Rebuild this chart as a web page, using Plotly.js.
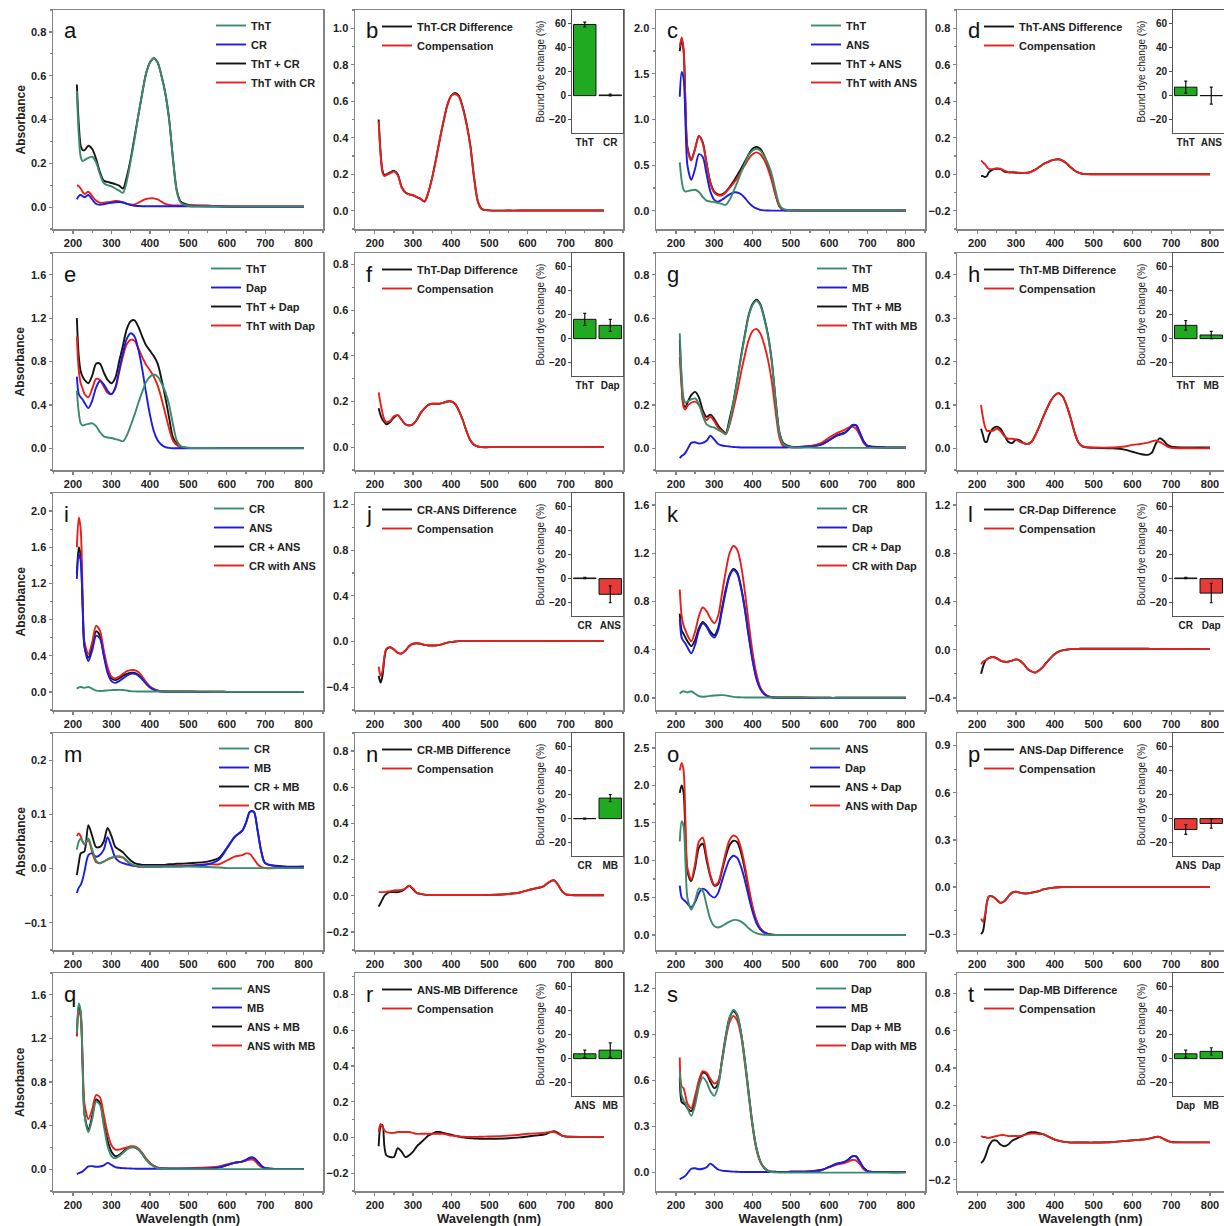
<!DOCTYPE html>
<html><head><meta charset="utf-8">
<script src="https://cdn.plot.ly/plotly-3.0.1.min.js"></script>
<style>html,body{margin:0;padding:0;background:#fff}#chart{width:1224px;height:1226px}</style>
</head><body><div id="chart"></div>
<script>
const WL = [210,215,220,225,230, 240,250,260,270,280,290,300, 310,320,330,340,350,360,370,380,390,400, 410,420,430,440,450,460,470,480, 500,550,580,600,620,640,650,660,670,680,690,700,750,800];

const THT = [0.53,0.33,0.23,0.21,0.215, 0.225,0.23,0.205,0.15,0.11,0.10,0.095, 0.085,0.075,0.065,0.12,0.21,0.31,0.42,0.52,0.61,0.66, 0.68,0.66,0.60,0.52,0.40,0.22,0.07,0.02, 0.005,0.003,0.002,0.002,0.002,0.002,0.002,0.002,0.002,0.002,0.002,0.002,0.002,0.002];
const CR = [0.035,0.05,0.055,0.05,0.045, 0.055,0.035,0.015,0.01,0.013,0.017,0.02, 0.022,0.023,0.021,0.015,0.009,0.006,0.005,0.004,0.004,0.004, 0.004,0.004,0.004,0.004,0.004,0.004,0.004,0.004, 0.004,0.003,0.002,0.001,0.001,0.001,0.001,0.001,0.001,0.001,0.001,0.001,0.001,0.001];
const ANS = [1.25,1.52,1.45,0.95,0.50, 0.34,0.46,0.62,0.59,0.40,0.21,0.12, 0.10,0.12,0.15,0.18,0.20,0.20,0.18,0.14,0.09,0.05, 0.025,0.01,0.004,0.002,0.001,0.001,0.001,0.001, 0.001,0.001,0.001,0.001,0.001,0.001,0.001,0.001,0.001,0.001,0.001,0.001,0.001,0.001];
const DAP = [0.66,0.50,0.47,0.45,0.42, 0.37,0.44,0.56,0.62,0.59,0.53,0.50, 0.56,0.72,0.88,1.01,1.06,1.03,0.91,0.73,0.51,0.31, 0.16,0.075,0.032,0.011,0.004,0.001,0,0, 0,0,0,0,0,0,0,0,0,0,0,0,0,0];
const MB = [-0.045,-0.035,-0.03,-0.02,-0.005, 0.025,0.028,0.022,0.025,0.035,0.058,0.04, 0.02,0.013,0.01,0.008,0.006,0.005,0.004,0.004,0.004,0.004, 0.004,0.004,0.004,0.004,0.004,0.004,0.004,0.004, 0.005,0.008,0.017,0.037,0.058,0.07,0.085,0.105,0.105,0.07,0.03,0.01,0.003,0.003];

const A_SUM = [0.56,0.38,0.28,0.26,0.26, 0.28,0.265,0.22,0.16,0.12,0.115,0.11, 0.105,0.098,0.085,0.14,0.22,0.32,0.42,0.52,0.61,0.66, 0.68,0.66,0.60,0.52,0.40,0.22,0.075,0.025, 0.01,0.006,0.004,0.003,0.003,0.003,0.003,0.003,0.003,0.003,0.003,0.003,0.003,0.003];
const A_WITH = [0.10,0.095,0.085,0.07,0.06, 0.07,0.05,0.03,0.02,0.02,0.022,0.025, 0.028,0.027,0.022,0.015,0.012,0.012,0.02,0.03,0.037,0.04, 0.04,0.035,0.025,0.015,0.01,0.008,0.008,0.008, 0.008,0.006,0.005,0.004,0.003,0.003,0.003,0.003,0.003,0.003,0.003,0.003,0.003,0.003];
const B_DIFF = [0.50,0.32,0.22,0.195,0.20, 0.21,0.22,0.20,0.13,0.10,0.09,0.085, 0.075,0.065,0.05,0.10,0.18,0.28,0.39,0.49,0.58,0.63, 0.645,0.63,0.57,0.48,0.36,0.18,0.05,0.01, 0.002,0.001,0.001,0.001,0.001,0.001,0.001,0.001,0.001,0.001,0.001,0.001,0.001,0.001];
const B_COMP = [0.49,0.31,0.21,0.19,0.195, 0.205,0.215,0.195,0.13,0.10,0.09,0.085, 0.075,0.065,0.05,0.10,0.18,0.28,0.39,0.49,0.58,0.63, 0.64,0.625,0.565,0.475,0.355,0.18,0.05,0.01, 0.002,0.001,0.001,0.001,0.001,0.001,0.001,0.001,0.001,0.001,0.001,0.001,0.001,0.001];
const C_SUM = [1.75,1.88,1.75,1.15,0.70, 0.56,0.68,0.82,0.75,0.52,0.31,0.21, 0.18,0.18,0.21,0.26,0.32,0.39,0.46,0.54,0.62,0.68, 0.70,0.68,0.61,0.50,0.36,0.18,0.05,0.01, 0.005,0.003,0.002,0.002,0.002,0.002,0.002,0.002,0.002,0.002,0.002,0.002,0.002,0.002];
const C_WITH = [1.80,1.90,1.78,1.15,0.68, 0.55,0.68,0.82,0.74,0.51,0.30,0.20, 0.17,0.17,0.20,0.25,0.30,0.36,0.43,0.50,0.57,0.62, 0.64,0.62,0.56,0.46,0.33,0.17,0.05,0.01, 0.005,0.003,0.002,0.002,0.002,0.002,0.002,0.002,0.002,0.002,0.002,0.002,0.002,0.002];
const D_DIFF = [-0.01,-0.01,-0.015,-0.01,0.01, 0.025,0.03,0.028,0.015,0.01,0.01,0.008, 0.007,0.006,0.008,0.015,0.025,0.04,0.055,0.065,0.075,0.08, 0.082,0.075,0.06,0.04,0.022,0.01,0.003,0.001, 0,0,0,0,0,0,0,0,0,0,0,0,0,0];
const D_COMP = [0.075,0.065,0.055,0.04,0.03, 0.028,0.032,0.03,0.02,0.012,0.012,0.01, 0.008,0.007,0.008,0.015,0.025,0.04,0.055,0.065,0.075,0.08, 0.082,0.075,0.06,0.04,0.022,0.01,0.003,0.001, 0,0,0,0,0,0,0,0,0,0,0,0,0,0];
const E_SUM = [1.20,0.85,0.71,0.66,0.63, 0.60,0.67,0.78,0.78,0.70,0.63,0.60, 0.65,0.80,0.95,1.10,1.17,1.18,1.12,1.03,0.95,0.90, 0.85,0.78,0.64,0.47,0.28,0.10,0.04,0.01, 0.003,0.002,0.002,0.002,0.002,0.002,0.002,0.002,0.002,0.002,0.002,0.002,0.002,0.002];
const E_WITH = [1.03,0.72,0.60,0.55,0.50, 0.47,0.55,0.64,0.63,0.57,0.51,0.50, 0.55,0.70,0.85,0.96,1.00,0.99,0.92,0.84,0.77,0.72, 0.66,0.58,0.46,0.32,0.18,0.07,0.03,0.01, 0.002,0.002,0.002,0.002,0.002,0.002,0.002,0.002,0.002,0.002,0.002,0.002,0.002,0.002];
const F_DIFF = [0.17,0.14,0.12,0.11,0.10, 0.11,0.13,0.14,0.12,0.10,0.095,0.10, 0.12,0.15,0.17,0.185,0.19,0.19,0.19,0.195,0.20,0.20, 0.19,0.16,0.12,0.07,0.03,0.01,0.003,0, 0,0,0,0,0,0,0,0,0,0,0,0,0,0];
const F_COMP = [0.24,0.19,0.15,0.12,0.11, 0.115,0.135,0.14,0.12,0.10,0.095,0.10, 0.12,0.15,0.17,0.185,0.19,0.19,0.19,0.195,0.20,0.20, 0.19,0.16,0.12,0.07,0.03,0.01,0.003,0, 0,0,0,0,0,0,0,0,0,0,0,0,0,0];
const G_SUM = [0.50,0.30,0.20,0.19,0.21, 0.245,0.26,0.235,0.175,0.145,0.155,0.135, 0.105,0.085,0.07,0.135,0.215,0.315,0.425,0.525,0.615,0.665, 0.685,0.665,0.605,0.525,0.405,0.225,0.075,0.025, 0.008,0.01,0.018,0.038,0.06,0.072,0.087,0.107,0.107,0.072,0.032,0.012,0.004,0.004];
const G_WITH = [0.42,0.28,0.19,0.18,0.195, 0.21,0.215,0.20,0.16,0.13,0.145,0.125, 0.095,0.08,0.065,0.11,0.18,0.26,0.35,0.43,0.50,0.54, 0.55,0.53,0.48,0.41,0.31,0.17,0.05,0.01, 0.005,0.01,0.025,0.05,0.07,0.085,0.095,0.10,0.09,0.06,0.025,0.008,0.003,0.003];
const H_DIFF = [0.045,0.03,0.015,0.015,0.03, 0.045,0.05,0.045,0.03,0.015,0.012,0.02, 0.018,0.012,0.01,0.015,0.03,0.05,0.072,0.092,0.11,0.122, 0.127,0.12,0.10,0.072,0.04,0.015,0.005,0.002, 0.001,0,-0.003,-0.008,-0.013,-0.015,-0.01,0.01,0.023,0.018,0.008,0.004,0.002,0.002];
const H_COMP = [0.10,0.07,0.05,0.04,0.04, 0.04,0.045,0.04,0.028,0.022,0.022,0.02, 0.015,0.012,0.01,0.015,0.03,0.05,0.072,0.092,0.11,0.122, 0.127,0.12,0.10,0.072,0.04,0.015,0.005,0.003, 0.002,0.002,0.004,0.008,0.01,0.013,0.016,0.018,0.015,0.01,0.004,0.001,0,0];
const I_SUM = [1.30,1.60,1.50,0.95,0.50, 0.38,0.50,0.67,0.62,0.42,0.24,0.15, 0.13,0.15,0.18,0.20,0.21,0.21,0.19,0.15,0.10,0.055, 0.03,0.013,0.006,0.004,0.004,0.004,0.004,0.004, 0.004,0.003,0.002,0.001,0.001,0.001,0.001,0.001,0.001,0.001,0.001,0.001,0.001,0.001];
const I_WITH = [1.60,1.93,1.80,1.10,0.55, 0.42,0.55,0.73,0.68,0.46,0.27,0.17, 0.15,0.17,0.20,0.23,0.24,0.24,0.22,0.17,0.11,0.06, 0.03,0.013,0.006,0.004,0.004,0.004,0.004,0.004, 0.004,0.003,0.002,0.001,0.001,0.001,0.001,0.001,0.001,0.001,0.001,0.001,0.001,0.001];
const J_DIFF = [-0.30,-0.36,-0.30,-0.15,-0.07, -0.05,-0.07,-0.10,-0.105,-0.08,-0.04,-0.02, -0.015,-0.02,-0.03,-0.035,-0.035,-0.035,-0.03,-0.02,-0.01,-0.005, 0,0.003,0.003,0.003,0.003,0.003,0.003,0.004, 0.005,0.005,0.005,0.005,0.005,0.005,0.005,0.005,0.005,0.005,0.004,0.004,0.003,0.003];
const J_COMP = [-0.22,-0.30,-0.26,-0.13,-0.065, -0.05,-0.07,-0.10,-0.105,-0.08,-0.04,-0.02, -0.015,-0.02,-0.03,-0.035,-0.035,-0.035,-0.03,-0.02,-0.01,-0.005, 0,0.003,0.003,0.003,0.003,0.003,0.003,0.004, 0.005,0.005,0.005,0.005,0.005,0.005,0.005,0.005,0.005,0.005,0.004,0.004,0.003,0.003];
const K_SUM = [0.70,0.56,0.53,0.50,0.47, 0.43,0.48,0.58,0.63,0.60,0.55,0.52, 0.58,0.74,0.90,1.02,1.07,1.04,0.92,0.74,0.52,0.32, 0.17,0.08,0.036,0.015,0.007,0.005,0.004,0.004, 0.004,0.003,0.002,0.001,0.001,0.001,0.001,0.001,0.001,0.001,0.001,0.001,0.001,0.001];
const K_WITH = [0.90,0.68,0.60,0.56,0.52, 0.47,0.55,0.68,0.75,0.72,0.66,0.62, 0.68,0.86,1.05,1.20,1.26,1.23,1.10,0.88,0.62,0.38, 0.20,0.09,0.04,0.015,0.006,0.004,0.004,0.004, 0.004,0.003,0.002,0.001,0.001,0.001,0.001,0.001,0.001,0.001,0.001,0.001,0.001,0.001];
const L_DIFF = [-0.20,-0.14,-0.10,-0.08,-0.07, -0.06,-0.07,-0.09,-0.10,-0.10,-0.09,-0.08, -0.09,-0.12,-0.16,-0.18,-0.19,-0.17,-0.14,-0.10,-0.065,-0.035, -0.015,-0.005,0,0.005,0.006,0.007,0.008,0.008, 0.008,0.008,0.008,0.008,0.008,0.008,0.007,0.007,0.007,0.006,0.006,0.006,0.005,0.005];
const L_COMP = [-0.12,-0.10,-0.09,-0.08,-0.07, -0.06,-0.07,-0.09,-0.10,-0.10,-0.09,-0.08, -0.09,-0.12,-0.16,-0.18,-0.19,-0.17,-0.14,-0.10,-0.065,-0.035, -0.015,-0.005,0,0.005,0.006,0.007,0.008,0.008, 0.008,0.008,0.008,0.008,0.008,0.008,0.007,0.007,0.007,0.006,0.006,0.006,0.005,0.005];
const M_SUM = [-0.012,0.01,0.028,0.03,0.032, 0.08,0.06,0.04,0.04,0.05,0.075,0.06, 0.04,0.035,0.03,0.022,0.015,0.01,0.008,0.007,0.007,0.007, 0.007,0.007,0.007,0.007,0.008,0.008,0.009,0.009, 0.01,0.013,0.02,0.038,0.058,0.07,0.085,0.105,0.105,0.07,0.03,0.01,0.004,0.004];
const M_WITH = [0.06,0.065,0.06,0.05,0.045, 0.052,0.03,0.012,0.01,0.013,0.017,0.02, 0.022,0.022,0.02,0.014,0.008,0.005,0.004,0.004,0.004,0.004, 0.004,0.004,0.004,0.005,0.005,0.005,0.006,0.006, 0.006,0.008,0.008,0.015,0.022,0.025,0.028,0.027,0.018,0.008,0.003,0.001,0.001,0.001];
const N_DIFF = [-0.06,-0.04,-0.02,0,0.01, 0.02,0.02,0.02,0.025,0.04,0.055,0.035, 0.015,0.01,0.006,0.004,0.004,0.004,0.004,0.004,0.004,0.004, 0.004,0.004,0.004,0.004,0.004,0.004,0.004,0.004, 0.005,0.01,0.018,0.03,0.04,0.05,0.065,0.08,0.085,0.06,0.025,0.008,0.003,0.003];
const N_COMP = [0.02,0.02,0.02,0.02,0.022, 0.025,0.03,0.03,0.032,0.04,0.055,0.04, 0.015,0.01,0.006,0.004,0.004,0.004,0.004,0.004,0.004,0.004, 0.004,0.004,0.004,0.004,0.004,0.004,0.004,0.004, 0.005,0.01,0.018,0.03,0.04,0.05,0.065,0.08,0.085,0.06,0.025,0.008,0.003,0.003];
const O_SUM = [1.90,2.00,1.90,1.30,0.85, 0.72,0.90,1.17,1.22,1.00,0.78,0.66, 0.68,0.85,1.05,1.20,1.26,1.24,1.10,0.87,0.60,0.36, 0.19,0.09,0.04,0.015,0.005,0.002,0.001,0, 0,0,0,0,0,0,0,0,0,0,0,0,0,0];
const O_WITH = [2.20,2.30,2.20,1.50,0.90, 0.74,0.95,1.25,1.30,1.05,0.80,0.67, 0.70,0.88,1.10,1.27,1.33,1.30,1.16,0.92,0.64,0.38, 0.20,0.09,0.04,0.015,0.005,0.002,0.001,0, 0,0,0,0,0,0,0,0,0,0,0,0,0,0];
const P_DIFF = [-0.30,-0.28,-0.20,-0.10,-0.06, -0.06,-0.08,-0.10,-0.09,-0.06,-0.035,-0.03, -0.035,-0.04,-0.04,-0.035,-0.03,-0.025,-0.015,-0.01,-0.005,-0.003, -0.001,0,0,0,0,0,0,0, 0,0,0,0,0,0,0,0,0,0,0,0,0,0];
const P_COMP = [-0.20,-0.22,-0.18,-0.10,-0.06, -0.06,-0.08,-0.10,-0.09,-0.06,-0.035,-0.03, -0.035,-0.04,-0.04,-0.035,-0.03,-0.025,-0.015,-0.01,-0.005,-0.003, -0.001,0,0,0,0,0,0,0, 0,0,0,0,0,0,0,0,0,0,0,0,0,0];
const Q_SUM = [1.22,1.50,1.43,0.95,0.50, 0.36,0.49,0.64,0.61,0.43,0.26,0.16, 0.12,0.13,0.16,0.19,0.20,0.20,0.18,0.14,0.09,0.055, 0.03,0.014,0.008,0.006,0.005,0.005,0.005,0.005, 0.005,0.008,0.017,0.037,0.058,0.07,0.085,0.105,0.105,0.07,0.03,0.01,0.003,0.003];
const Q_WITH = [1.22,1.45,1.40,1.00,0.60, 0.46,0.55,0.68,0.66,0.50,0.33,0.22, 0.18,0.18,0.19,0.20,0.21,0.21,0.19,0.15,0.10,0.06, 0.03,0.015,0.01,0.008,0.008,0.008,0.008,0.008, 0.01,0.015,0.025,0.045,0.06,0.07,0.08,0.088,0.085,0.05,0.02,0.006,0.003,0.003];
const R_DIFF = [-0.05,0.06,0.07,-0.05,-0.10, -0.11,-0.11,-0.06,-0.08,-0.11,-0.10,-0.08, -0.05,-0.03,-0.01,0.01,0.02,0.03,0.03,0.025,0.02,0.015, 0.01,0.005,0,-0.003,-0.005,-0.006,-0.007,-0.008, -0.008,-0.005,0,0.005,0.01,0.015,0.02,0.03,0.035,0.025,0.01,0.005,0.003,0.003];
const R_COMP = [0.03,0.075,0.06,0.04,0.03, 0.025,0.025,0.03,0.03,0.03,0.03,0.025, 0.02,0.02,0.02,0.02,0.02,0.02,0.02,0.02,0.015,0.01, 0.008,0.005,0.004,0.003,0.003,0.003,0.003,0.004, 0.005,0.01,0.015,0.02,0.022,0.025,0.028,0.03,0.03,0.02,0.01,0.005,0.003,0.003];
const S_SUM = [0.62,0.46,0.45,0.44,0.42, 0.40,0.47,0.59,0.65,0.64,0.59,0.55, 0.58,0.73,0.89,1.01,1.05,1.02,0.91,0.73,0.52,0.31, 0.16,0.075,0.032,0.013,0.006,0.005,0.004,0.004, 0.005,0.008,0.017,0.037,0.058,0.07,0.085,0.105,0.105,0.07,0.03,0.01,0.003,0.003];
const S_WITH = [0.75,0.56,0.55,0.50,0.45, 0.42,0.50,0.60,0.66,0.65,0.61,0.58, 0.60,0.72,0.87,0.98,1.02,0.99,0.89,0.71,0.50,0.30, 0.15,0.07,0.03,0.012,0.006,0.005,0.004,0.004, 0.005,0.008,0.017,0.035,0.052,0.062,0.072,0.082,0.08,0.055,0.022,0.008,0.003,0.003];
const T_DIFF = [-0.11,-0.10,-0.08,-0.05,-0.02, 0.01,0.01,-0.01,-0.02,-0.01,0.01,0.02, 0.03,0.04,0.05,0.055,0.055,0.05,0.045,0.035,0.025,0.015, 0.01,0.005,0.002,0,0,0,0,0, 0,0.003,0.008,0.012,0.015,0.02,0.025,0.03,0.03,0.02,0.01,0.003,0.001,0.001];
const T_COMP = [0.035,0.03,0.03,0.025,0.025, 0.03,0.035,0.04,0.04,0.035,0.035,0.035, 0.035,0.04,0.045,0.048,0.048,0.045,0.045,0.035,0.025,0.015, 0.01,0.005,0.002,0,0,0,0,0, 0,0.003,0.008,0.012,0.015,0.02,0.025,0.03,0.03,0.02,0.01,0.003,0.001,0.001];

// inset bar data: bound dye change (%)
const IN_B_CAT = ['ThT','CR'];  const IN_B_VAL = [59, 0.5];  const IN_B_ERR = [2, 0.8];
const IN_D_CAT = ['ThT','ANS']; const IN_D_VAL = [7, 0];     const IN_D_ERR = [5, 7];
const IN_F_CAT = ['ThT','Dap']; const IN_F_VAL = [16, 11];   const IN_F_ERR = [5, 5];
const IN_H_CAT = ['ThT','MB'];  const IN_H_VAL = [11, 3];    const IN_H_ERR = [4, 3];
const IN_J_CAT = ['CR','ANS'];  const IN_J_VAL = [0.5, -13]; const IN_J_ERR = [0.5, 7];
const IN_L_CAT = ['CR','Dap'];  const IN_L_VAL = [0.5, -12]; const IN_L_ERR = [0.5, 8];
const IN_N_CAT = ['CR','MB'];   const IN_N_VAL = [0, 17];    const IN_N_ERR = [0.5, 3];
const IN_P_CAT = ['ANS','Dap']; const IN_P_VAL = [-9, -4];   const IN_P_ERR = [4, 4];
const IN_R_CAT = ['ANS','MB'];  const IN_R_VAL = [4, 7];     const IN_R_ERR = [3, 6];
const IN_T_CAT = ['Dap','MB'];  const IN_T_VAL = [4, 6];     const IN_T_ERR = [3, 3];

const PANELS = [
 {L:'a', r:0, c:0, yr:[-0.1,0.9], dt:0.2, lines:[['ThT',THT,'g'],['CR',CR,'b'],['ThT + CR',A_SUM,'k'],['ThT with CR',A_WITH,'r']]},
 {L:'b', r:0, c:1, yr:[-0.1,1.1], dt:0.2, lines:[['ThT-CR Difference',B_DIFF,'k'],['Compensation',B_COMP,'r']], inset:[IN_B_CAT,IN_B_VAL,IN_B_ERR]},
 {L:'c', r:0, c:2, yr:[-0.2,2.2], dt:0.5, lines:[['ThT',THT,'g'],['ANS',ANS,'b'],['ThT + ANS',C_SUM,'k'],['ThT with ANS',C_WITH,'r']]},
 {L:'d', r:0, c:3, yr:[-0.3,0.9], dt:0.2, lines:[['ThT-ANS Difference',D_DIFF,'k'],['Compensation',D_COMP,'r']], inset:[IN_D_CAT,IN_D_VAL,IN_D_ERR]},
 {L:'e', r:1, c:0, yr:[-0.2,1.8], dt:0.4, lines:[['ThT',THT,'g'],['Dap',DAP,'b'],['ThT + Dap',E_SUM,'k'],['ThT with Dap',E_WITH,'r']]},
 {L:'f', r:1, c:1, yr:[-0.1,0.85], dt:0.2, lines:[['ThT-Dap Difference',F_DIFF,'k'],['Compensation',F_COMP,'r']], inset:[IN_F_CAT,IN_F_VAL,IN_F_ERR]},
 {L:'g', r:1, c:2, yr:[-0.1,0.9], dt:0.2, lines:[['ThT',THT,'g'],['MB',MB,'b'],['ThT + MB',G_SUM,'k'],['ThT with MB',G_WITH,'r']]},
 {L:'h', r:1, c:3, yr:[-0.05,0.45], dt:0.1, lines:[['ThT-MB Difference',H_DIFF,'k'],['Compensation',H_COMP,'r']], inset:[IN_H_CAT,IN_H_VAL,IN_H_ERR]},
 {L:'i', r:2, c:0, yr:[-0.2,2.2], dt:0.4, lines:[['CR',CR,'g'],['ANS',ANS,'b'],['CR + ANS',I_SUM,'k'],['CR with ANS',I_WITH,'r']]},
 {L:'j', r:2, c:1, yr:[-0.6,1.3], dt:0.4, lines:[['CR-ANS Difference',J_DIFF,'k'],['Compensation',J_COMP,'r']], inset:[IN_J_CAT,IN_J_VAL,IN_J_ERR]},
 {L:'k', r:2, c:2, yr:[-0.1,1.7], dt:0.4, lines:[['CR',CR,'g'],['Dap',DAP,'b'],['CR + Dap',K_SUM,'k'],['CR with Dap',K_WITH,'r']]},
 {L:'l', r:2, c:3, yr:[-0.5,1.3], dt:0.4, lines:[['CR-Dap Difference',L_DIFF,'k'],['Compensation',L_COMP,'r']], inset:[IN_L_CAT,IN_L_VAL,IN_L_ERR]},
 {L:'m', r:3, c:0, yr:[-0.15,0.25], dt:0.1, lines:[['CR',CR,'g'],['MB',MB,'b'],['CR + MB',M_SUM,'k'],['CR with MB',M_WITH,'r']]},
 {L:'n', r:3, c:1, yr:[-0.3,0.9], dt:0.2, lines:[['CR-MB Difference',N_DIFF,'k'],['Compensation',N_COMP,'r']], inset:[IN_N_CAT,IN_N_VAL,IN_N_ERR]},
 {L:'o', r:3, c:2, yr:[-0.2,2.7], dt:0.5, lines:[['ANS',ANS,'g'],['Dap',DAP,'b'],['ANS + Dap',O_SUM,'k'],['ANS with Dap',O_WITH,'r']]},
 {L:'p', r:3, c:3, yr:[-0.4,0.98], dt:0.3, lines:[['ANS-Dap Difference',P_DIFF,'k'],['Compensation',P_COMP,'r']], inset:[IN_P_CAT,IN_P_VAL,IN_P_ERR]},
 {L:'q', r:4, c:0, yr:[-0.2,1.8], dt:0.4, lines:[['ANS',ANS,'g'],['MB',MB,'b'],['ANS + MB',Q_SUM,'k'],['ANS with MB',Q_WITH,'r']]},
 {L:'r', r:4, c:1, yr:[-0.3,0.92], dt:0.2, lines:[['ANS-MB Difference',R_DIFF,'k'],['Compensation',R_COMP,'r']], inset:[IN_R_CAT,IN_R_VAL,IN_R_ERR]},
 {L:'s', r:4, c:2, yr:[-0.12,1.3], dt:0.3, lines:[['Dap',DAP,'g'],['MB',MB,'b'],['Dap + MB',S_SUM,'k'],['Dap with MB',S_WITH,'r']]},
 {L:'t', r:4, c:3, yr:[-0.26,0.91], dt:0.2, lines:[['Dap-MB Difference',T_DIFF,'k'],['Compensation',T_COMP,'r']], inset:[IN_T_CAT,IN_T_VAL,IN_T_ERR]}
];

const W = 1224, H = 1226;
const COLX = [[53,323],[355,623],[656,925],[957,1224]];
const XR = [[148,850],[148,850],[148,850],[148,836]];
const ROWY = [[10,229],[253,470],[493,710],[733,950],[973,1191]];
const COLORS = {g:'#3b8b6a', b:'#1c1ce6', k:'#141414', r:'#e8201c'};
const FONT = 'Liberation Sans, Arial, sans-serif';
const AX = '#858585';
const TF = {family:FONT, size:11, color:'#222', weight:'bold'};

const data = [];
const layout = {width:W, height:H, margin:{l:0,r:0,t:0,b:0}, paper_bgcolor:'#fff', plot_bgcolor:'#fff',
  showlegend:true, annotations:[], bargap:0.1};

let insetN = 21;
PANELS.forEach((p, i) => {
  const n = i + 1, sx = n === 1 ? '' : String(n);
  const [x0, x1] = COLX[p.c], [y0, y1] = ROWY[p.r];
  p.lines.forEach(l => { if (l[1].length !== WL.length) throw new Error('len ' + p.L + ' ' + l[0] + ' ' + l[1].length); });
  layout['xaxis' + sx] = {domain:[x0 / W, x1 / W], range:XR[p.c], anchor:'y' + sx, dtick:100, tick0:0,
    ticks:'outside', ticklen:3, tickwidth:1.2, tickcolor:AX, showline:true, linecolor:AX, linewidth:1.5, mirror:true,
    showgrid:false, zeroline:false, tickfont:TF,
    minor:{dtick:50, ticks:'outside', ticklen:2, tickcolor:AX, showgrid:false},
    title: p.r === 4 ? {text:'Wavelength (nm)', font:{family:FONT, size:13, color:'#222', weight:'bold'}, standoff:3} : {text:''}};
  layout['yaxis' + sx] = {domain:[1 - y1 / H, 1 - y0 / H], range:p.yr, anchor:'x' + sx, dtick:p.dt, tick0:0, tickformat:'.1f',
    ticks:'outside', ticklen:3, tickwidth:1.2, tickcolor:AX, showline:true, linecolor:AX, linewidth:1.5, mirror:true,
    showgrid:false, zeroline:false, tickfont:TF,
    minor:{dtick:p.dt / 2, ticks:'outside', ticklen:2, tickcolor:AX, showgrid:false},
    title:{text:''}};
  if (p.c === 0) {
    layout.annotations.push({text:'Absorbance', xref:'paper', yref:'paper', x:20 / W, y:1 - (y0 + y1) / 2 / H,
      textangle:-90, xanchor:'center', yanchor:'middle', showarrow:false,
      font:{family:FONT, size:12, color:'#222', weight:'bold'}});
  }
  const lg = 'legend' + sx;
  const four = p.lines.length === 4;
  layout[lg] = four
    ? {x:(x1 - 2) / W, xanchor:'right', y:1 - (y0 + 1) / H, yanchor:'top', bgcolor:'rgba(0,0,0,0)', borderwidth:0,
       font:{family:FONT, size:11, color:'#222', weight:'bold'}, itemwidth:30, tracegroupgap:0}
    : {x:(x0 + 22) / W, xanchor:'left', y:1 - (y0 + 2) / H, yanchor:'top', bgcolor:'rgba(0,0,0,0)', borderwidth:0,
       font:{family:FONT, size:11, color:'#222', weight:'bold'}, itemwidth:30, tracegroupgap:0};
  const order = four ? [2, 3, 1, 0] : [0, 1];
  order.forEach(k => {
    const [name, ys, col] = p.lines[k];
    data.push({type:'scatter', mode:'lines', x:WL, y:ys, name:name, xaxis:'x' + sx, yaxis:'y' + sx,
      legend:lg, legendrank:k + 1, line:{color:COLORS[col], width:1.9, shape:'spline', smoothing:0.8}, hoverinfo:'skip'});
  });
  layout.annotations.push({text:p.L, xref:'paper', yref:'paper', x:(x0 + 9) / W, y:1 - (y0 + 21) / H,
    xanchor:'left', yanchor:'middle', showarrow:false, font:{family:FONT, size:22, color:'#111'}});
  if (p.inset) {
    const m = insetN++;
    const [cats, vals, errs] = p.inset;
    layout['xaxis' + m] = {domain:[(x1 - 51) / W, x1 / W], anchor:'y' + m, type:'category', showline:true, mirror:true,
      linecolor:'#555', linewidth:1, ticks:'', showgrid:false, zeroline:false,
      tickfont:{family:FONT, size:10, color:'#222', weight:'bold'}};
    layout['yaxis' + m] = {domain:[1 - (y0 + 123) / H, 1 - y0 / H], anchor:'x' + m, range:[-31, 71], tickvals:[-20, 0, 20, 40, 60],
      ticks:'outside', ticklen:3, tickcolor:'#555', showline:true, mirror:true, linecolor:'#555', linewidth:1,
      showgrid:false, zeroline:false, tickfont:{family:FONT, size:10, color:'#222', weight:'bold'},
      title:{text:'Bound dye change (%)', font:{family:FONT, size:10, color:'#222'}, standoff:2}};
    data.push({type:'bar', x:cats, y:vals, xaxis:'x' + m, yaxis:'y' + m, width:0.88, showlegend:false, hoverinfo:'skip',
      marker:{color:vals.map(v => v < 0 ? '#e83a36' : '#1faa1f'), line:{color:'#111', width:1}},
      error_y:{type:'data', array:errs, color:'#111', thickness:1.2, width:1.5}});
  }
});

Plotly.newPlot('chart', data, layout, {displayModeBar:false, staticPlot:true});
</script>
</body></html>
